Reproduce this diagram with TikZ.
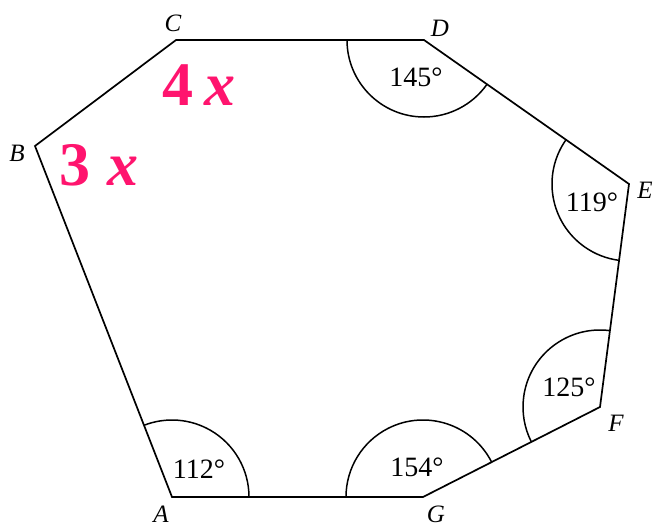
\documentclass[tikz,border=0pt]{standalone}
\usepackage{fontspec}
\setmainfont{Liberation Serif}
\usepackage{tikz}
\usetikzlibrary{angles,calc}
\definecolor{inkpink}{RGB}{255,20,110}
\tikzset{
  side/.style={line width=1.7pt,line join=miter},
  anglearc/.style={draw,line width=1.5pt,angle radius=77pt},
  vlabel/.style={font=\fontsize{25}{25}\selectfont\itshape,inner sep=0pt},
  deglabel/.style={font=\fontsize{28}{28}\selectfont,inner sep=0pt},
  handnote/.style={text=inkpink,font=\fontsize{62}{62}\selectfont\bfseries,inner sep=0pt}
}

\begin{document}
\begin{tikzpicture}[x=1pt,y=-1pt]
  \useasboundingbox (0,0) rectangle (653,527);
  % vertices
  \coordinate (A) at (172,497);
  \coordinate (B) at (35,146);
  \coordinate (C) at (176,40);
  \coordinate (D) at (424,40);
  \coordinate (E) at (629,184);
  \coordinate (F) at (600,407);
  \coordinate (G) at (423,497);
  \draw[side] (A) -- (B) -- (C) -- (D) -- (E) -- (F) -- (G) -- cycle;
  % angle arcs
  \pic[anglearc] {angle=G--A--B};
  \pic[anglearc] {angle=F--G--A};
  \pic[anglearc] {angle=E--F--G};
  \pic[anglearc] {angle=D--E--F};
  \pic[anglearc] {angle=C--D--E};
  % vertex names
  \node[vlabel] (labA) at (161,514) {A};
  \node[vlabel] (labB) at (17,153) {B};
  \node[vlabel] (labC) at (173,23) {C};
  \node[vlabel] (labD) at (440,28) {D};
  \node[vlabel] (labE) at (645,190) {E};
  \node[vlabel] (labF) at (616,423) {F};
  \node[vlabel] (labG) at (436,514) {G};
  % angle sizes
  \node[deglabel] (angA) at (199,469) {112°};
  \node[deglabel] (angG) at (417,467) {154°};
  \node[deglabel] (angF) at (569,387) {125°};
  \node[deglabel] (angE) at (592,202) {119°};
  \node[deglabel] (angD) at (416,77) {145°};
  % notes in pink
  \node[handnote] (noteC) at (199,85) {4\,\textit{x}};
  \node[handnote] (noteB) at (99,165) {3\;\textit{x}};
\end{tikzpicture}
\end{document}
